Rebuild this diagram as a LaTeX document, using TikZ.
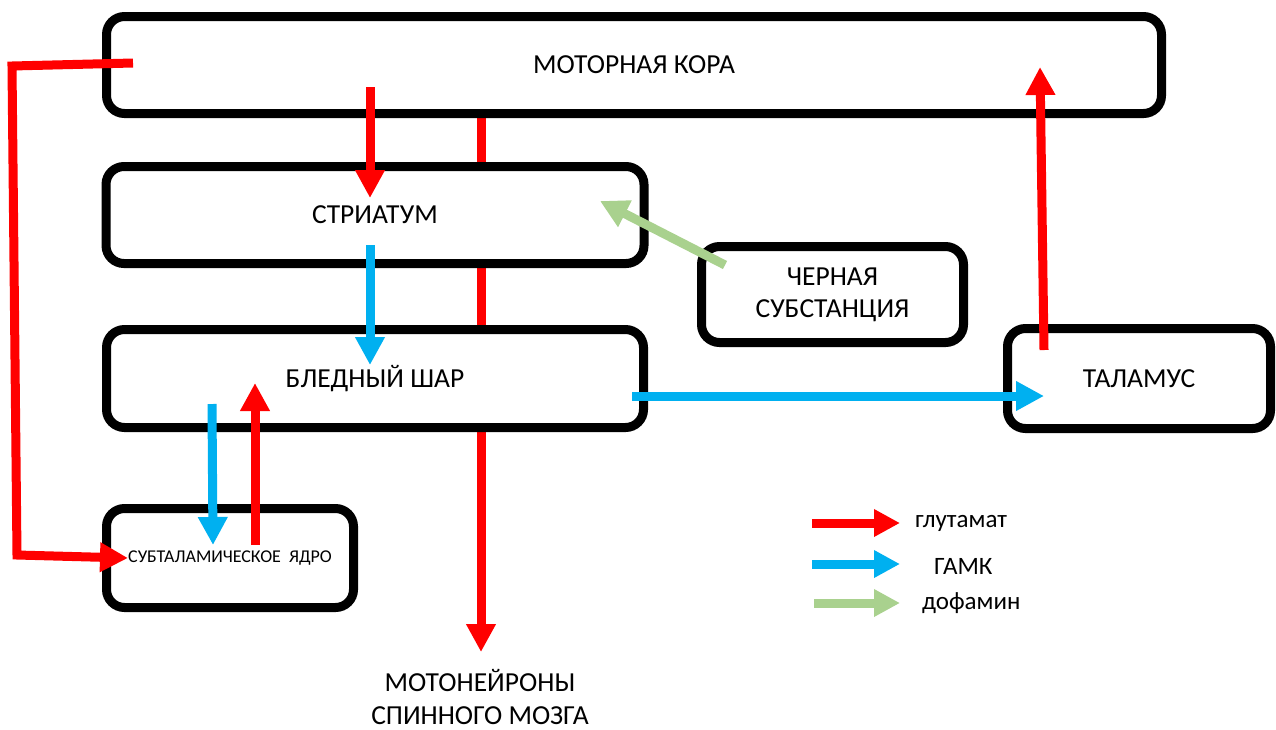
\documentclass[tikz,border=0pt]{standalone}
\usepackage{fontspec}
\setmainfont{Carlito}
\usetikzlibrary{arrows.meta,backgrounds}
\definecolor{glu}{RGB}{255,0,0}
\definecolor{gaba}{RGB}{0,176,240}
\definecolor{dopa}{RGB}{169,209,142}
\tikzset{
  box/.style={draw=black, line width=9pt, rounded corners=18pt, fill=white, inner sep=0pt, font=\fontsize{27.5}{31}\selectfont},
  conn/.style={line width=9pt, -{Triangle[width=28pt,length=28pt]}},
  redc/.style={conn, draw=glu, color=glu},
  bluec/.style={conn, draw=gaba, color=gaba},
  greenc/.style={conn, draw=dopa, color=dopa},
  lbl/.style={font=\fontsize{27.5}{33}\selectfont, align=center, inner sep=0pt},
  legtxt/.style={anchor=west, inner sep=0pt, font=\fontsize{25}{28}\selectfont},
}
\begin{document}
\begin{tikzpicture}[x=1pt,y=-1pt]
\useasboundingbox (0,0) rectangle (1276,729);
% boxes
\node[box, minimum width=1055pt, minimum height=97pt] (cortex) at (634,65) {МОТОРНАЯ КОРА};
\node[box, minimum width=538pt, minimum height=97pt] (striatum) at (375,215) {СТРИАТУМ};
\node[box, minimum width=262pt, minimum height=96pt, align=center, font=\fontsize{27.5}{32}\selectfont] (sn) at (832.5,294.5) {ЧЕРНАЯ\\СУБСТАНЦИЯ};
\node[box, minimum width=537pt, minimum height=98pt] (gp) at (375,378.5) {БЛЕДНЫЙ ШАР};
\node[box, minimum width=263pt, minimum height=100pt] (thal) at (1139,378.5) {ТАЛАМУС};
\node[box, minimum width=247pt, minimum height=99pt, font=\fontsize{18}{22}\selectfont] (stn) at (230,558) {СУБТАЛАМИЧЕСКОЕ\hspace{4pt} ЯДРО};
\node[lbl] (mn) at (480,697) {МОТОНЕЙРОНЫ\\СПИННОГО МОЗГА};
% coordinates
\coordinate (c1) at (481,118);
\coordinate (c2) at (481,652);
\coordinate (s1) at (370,87);
\coordinate (s2) at (370,198);
\coordinate (b1) at (370,245);
\coordinate (b2) at (370,365);
\coordinate (g1) at (725,265);
\coordinate (g2) at (600,201);
\coordinate (t1) at (632,396);
\coordinate (t2) at (1044,396);
\coordinate (r1) at (1044,350);
\coordinate (r2) at (1040,67);
\coordinate (d1) at (212,404);
\coordinate (d2) at (213,545);
\coordinate (u1) at (255,545);
\coordinate (u2) at (255,383);
\coordinate (p1) at (133,63);
\coordinate (p2) at (12,66);
\coordinate (p3) at (17,555);
\coordinate (p4) at (128,558);
% long line behind boxes
\begin{scope}[on background layer]
\draw[redc] (c1) -- (c2);
\end{scope}
\draw[redc] (s1) -- (s2);
\draw[bluec] (b1) -- (b2);
\draw[greenc] (g1) -- (g2);
\draw[bluec] (t1) -- (t2);
\draw[redc] (r1) -- (r2);
\draw[bluec] (d1) -- (d2);
\draw[redc] (u1) -- (u2);
\draw[redc, line join=miter] (p1) -- (p2) -- (p3) -- (p4);
% legend
\coordinate (l1a) at (812,523); \coordinate (l1b) at (900,523);
\coordinate (l2a) at (812,564); \coordinate (l2b) at (900,564);
\coordinate (l3a) at (814,603); \coordinate (l3b) at (900,603);
\draw[redc, -{Triangle[width=26pt,length=26pt]}] (l1a) -- (l1b);
\draw[bluec, -{Triangle[width=26pt,length=26pt]}] (l2a) -- (l2b);
\draw[greenc, -{Triangle[width=26pt,length=26pt]}] (l3a) -- (l3b);
\node[legtxt] (leg1) at (915,523) {глутамат};
\node[legtxt] (leg2) at (934,566) {ГАМК};
\node[legtxt] (leg3) at (922,603) {дофамин};
\end{tikzpicture}
\end{document}
